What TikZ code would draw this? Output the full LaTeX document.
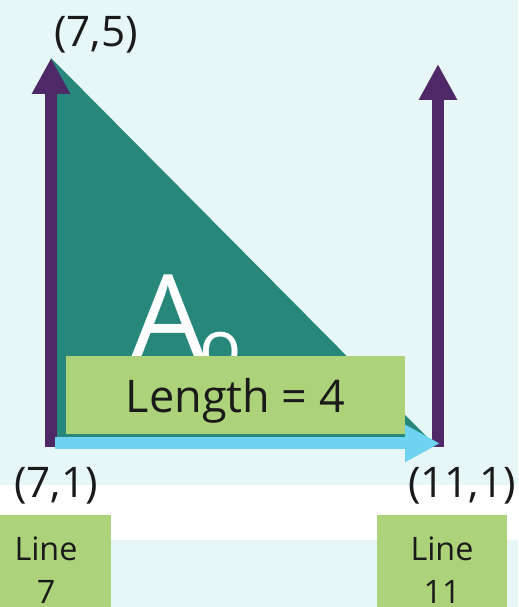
\documentclass[tikz,border=0pt]{standalone}
\usepackage{fontspec}
\setmainfont{Open Sans}
\usetikzlibrary{arrows.meta}
\definecolor{bgcol}{RGB}{231,246,246}
\definecolor{tealcol}{RGB}{38,135,122}
\definecolor{purplecol}{RGB}{79,40,104}
\definecolor{bluecol}{RGB}{109,211,240}
\definecolor{greencol}{RGB}{173,211,122}
\definecolor{inkcol}{RGB}{26,26,26}
\begin{document}
\begin{tikzpicture}[line join=miter, line cap=butt,
		uparrow/.style={purplecol,line width=0.3cm,-{Triangle[length=0.9cm,width=0.9cm]}},
		lenarrow/.style={bluecol,line width=0.3cm,-{Triangle[length=0.875cm,width=0.875cm]}},
		greenbox/.style={fill=greencol,text=inkcol},
		pointlabel/.style={text=inkcol,font=\fontsize{30}{36}\selectfont,anchor=base,inner sep=0}]
			\useasboundingbox (0,0) rectangle (12.95,15.175);
			\clip (0,0) rectangle (12.95,15.175);
			\fill[bgcol] (0,0) rectangle (12.95,15.175);
			\fill[white] (0,1.675) rectangle (12.95,3.05);
			\coordinate (t7) at (1.275,13.725);
			\coordinate (b7) at (1.275,4.0);
			\coordinate (t11) at (10.95,13.575);
			\coordinate (b11) at (10.95,4.0);
			\coordinate (s) at (1.375,4.09);
			\coordinate (e) at (11.0,4.09);
			\fill[tealcol] (t7) -- (10.825,4.1) -- (1.275,4.1) -- cycle;
			\node[white,anchor=base west,inner sep=0,font=\fontsize{85}{90}\selectfont] (bigA) at (3.25,6.15) {A};
			\node[white,anchor=base west,inner sep=0,font=\fontsize{50}{55}\selectfont] (smallo) at (4.98,5.9) {o};
			\draw[uparrow] (b7) -- (t7);
			\draw[uparrow] (b11) -- (t11);
			\draw[lenarrow] (s) -- (e);
			\node[greenbox,minimum width=8.475cm,minimum height=1.95cm,text depth=0pt,font=\fontsize{32}{38}\selectfont] (len) at (5.8875,5.3) {Length = 4};
			\node[pointlabel] (p75) at (2.4,14.0) {(7,5)};
			\node[pointlabel] (p71) at (1.4,2.725) {(7,1)};
			\node[pointlabel] (p111) at (11.55,2.725) {(11,1)};
			\node[greenbox,anchor=north,minimum width=3.25cm,align=center,inner ysep=0.525cm,font=\fontsize{23}{31}\selectfont] (line7) at (1.15,2.3) {Line\\7};
			\node[greenbox,anchor=north,minimum width=3.25cm,align=center,inner ysep=0.525cm,font=\fontsize{23}{31}\selectfont] (line11) at (11.05,2.3) {Line\\11};
		\end{tikzpicture}
\end{document}
